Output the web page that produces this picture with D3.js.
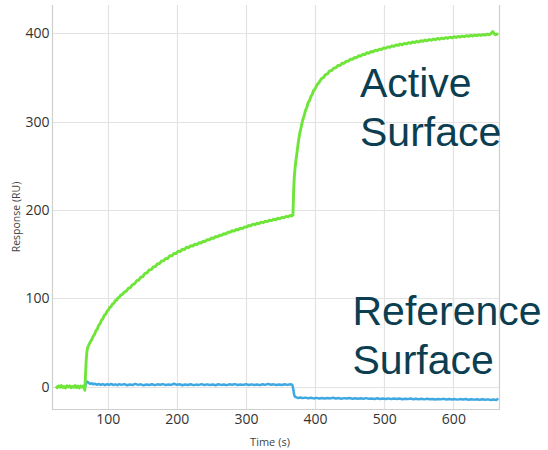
<!DOCTYPE html>
<html>
<head>
<meta charset="utf-8">
<script src="https://cdn.jsdelivr.net/npm/d3@7"></script>
<style>
  html, body { margin: 0; padding: 0; background: #ffffff; }
  svg { display: block; }
</style>
</head>
<body>
<svg id="chart" width="548" height="450"></svg>
<script>
// Sensorgram: response (RU) against time (s) for the active and reference flow cells
const xTicks = [100, 200, 300, 400, 500, 600];
const yTicks = [0, 100, 200, 300, 400];
const xTitle = "Time (s)";
const yTitle = "Response (RU)";

// [time, response] on the active surface
const activeSurface = [
  [25,0.4],[27,-1.2],[29,0.8],[31,-0.6],[33,1.3],[35,-1.0],[37,0.2],[39,-1.6],[41,0.9],[43,-0.4],
  [45,1.1],[47,-1.3],[49,0.3],[51,-0.8],[53,1.4],[55,-1.1],[57,0.6],[59,-1.5],[61,0.7],[63,-0.5],
  [65,1.0],[66,-1.8],[67,-4.2],
  [68,14],[69,30],[70,39.5],[71,44],[73,47.5],[75,50.8],[77,53.2],[79,57.0],[81,59.1],[83,63.2],
  [85,65.0],[87,69.4],[89,71.2],[91,75.1],[93,76.8],[95,80.6],[97,81.9],[99,85.3],[101,86.6],
  [103,89.8],[105,90.5],[107,93.6],[109,94.4],[111,97.3],[113,97.9],[115,100.6],[117,101.2],
  [119,103.8],[121,104.1],[124,107.0],[127,108.1],[130,111.4],[133,112.2],[136,115.6],[139,116.4],
  [142,119.9],[145,120.5],[148,124.0],[151,124.6],[154,128.3],[157,128.9],[160,132.1],[163,132.4],
  [166,135.6],[169,136.0],[172,139.1],[175,139.3],[178,142.2],[181,142.6],[184,145.2],[187,145.1],
  [190,148.3],[193,148.0],[196,150.9],[199,150.7],[202,153.4],[205,153.0],[208,155.6],[211,155.1],
  [214,157.8],[217,157.2],[220,159.6],[223,159.1],[226,161.3],[229,160.8],[232,162.9],[235,162.5],
  [238,164.6],[241,164.3],[244,166.4],[247,166.1],[250,168.2],[253,167.8],[256,169.9],[259,169.6],
  [262,171.5],[265,171.2],[268,173.1],[271,172.8],[274,174.8],[277,174.6],[280,176.5],[283,176.0],
  [286,177.9],[289,177.6],[292,179.4],[295,179.0],[298,180.9],[301,180.6],[304,182.4],[307,182.0],
  [310,183.9],[313,183.3],[316,185.0],[319,184.6],[322,186.2],[325,185.7],[328,187.3],[331,186.8],
  [334,188.4],[337,187.9],[340,189.5],[343,188.9],[346,190.6],[349,190.0],[352,191.6],[355,191.0],
  [358,192.7],[361,192.1],[364,193.8],[366,193.2],[368,194.2],
  [369,222],[370,238],[371,247],[372,254],[374,266],[376,278],[378,287.5],[380,294],[382,301.5],
  [384,306],[386,312.5],[388,316],[390,321.5],[392,324],[394,328.5],[396,331],[398,335.5],[400,337],
  [403,341.8],[406,344.6],[409,348.5],[412,349.8],[415,353.2],[418,354.1],[421,357.4],[424,357.9],
  [427,360.6],[430,360.9],[433,363.5],[436,363.6],[439,366.1],[442,366.0],[445,368.4],[448,368.3],
  [451,370.6],[454,370.4],[457,372.6],[460,372.3],[463,374.5],[466,374.2],[469,376.3],[472,375.9],
  [475,378.0],[478,377.4],[481,379.4],[484,379.0],[487,380.9],[490,380.3],[493,382.1],[496,381.6],
  [499,383.4],[502,382.9],[505,384.6],[508,384.1],[511,385.8],[514,385.1],[517,386.8],[520,386.2],
  [523,387.8],[526,387.0],[529,388.6],[532,387.9],[535,389.4],[538,388.7],[541,390.2],[544,389.4],
  [547,390.9],[550,390.1],[553,391.6],[556,390.8],[559,392.3],[562,391.5],[565,392.9],[568,392.1],
  [571,393.5],[574,392.7],[577,394.1],[580,393.3],[583,394.6],[586,393.8],[589,395.1],[592,394.3],
  [595,395.6],[598,394.8],[601,396.1],[604,395.3],[607,396.5],[610,395.7],[613,396.9],[616,396.1],
  [619,397.3],[622,396.5],[625,397.6],[628,396.9],[631,398.0],[634,397.2],[637,398.3],[640,397.5],
  [643,398.6],[646,397.9],[649,399.0],[652,398.2],[655,400.1],[657,402.0],[659,399.6],[661,398.3],
  [663,399.2],[665,398.4]
];

// [time, response] on the reference surface
const referenceSurface = [
  [67,-1.0],[68,1.5],[69,4.5],[70,5.8],[71,5.2],[73,4.0],[75,3.1],[77,3.8],[79,2.6],[81,3.3],
  [84,2.2],[87,3.0],[90,2.0],[93,2.9],[96,1.8],[99,2.7],[102,2.1],[105,3.0],[108,1.9],[111,2.6],
  [114,1.7],[117,2.8],[120,2.0],[124,2.9],[128,1.6],[132,2.5],[136,1.9],[140,3.1],[144,2.0],[148,2.6],
  [152,1.5],[156,2.4],[160,1.9],[164,2.8],[168,1.7],[172,2.6],[176,2.1],[180,2.9],[184,1.8],[188,2.4],
  [192,2.0],[196,3.3],[200,2.1],[204,2.7],[208,1.6],[212,2.5],[216,1.9],[220,2.8],[224,1.7],[228,2.3],
  [232,2.0],[236,2.9],[240,1.8],[244,2.6],[248,1.9],[252,2.4],[256,1.6],[260,2.7],[264,2.0],[268,2.5],
  [272,1.7],[276,2.6],[280,2.1],[284,2.9],[288,1.9],[292,2.5],[296,2.0],[300,2.8],[304,1.8],[308,2.6],
  [312,1.9],[316,2.4],[320,1.7],[324,2.7],[328,2.0],[332,3.2],[336,2.1],[340,2.6],[344,1.8],[348,2.5],
  [352,1.9],[356,2.7],[360,2.0],[364,2.6],[367,2.2],
  [368,-1.0],[369,-5.5],[370,-10.2],[371,-11.4],[373,-12.1],[376,-12.9],[379,-12.3],[382,-13.0],
  [386,-12.4],[390,-13.2],[394,-12.6],[398,-13.3],[402,-12.7],[406,-13.4],[410,-12.8],[414,-13.5],
  [418,-12.9],[422,-13.3],[426,-12.6],[430,-13.4],[434,-12.9],[438,-13.6],[442,-13.0],[446,-13.5],
  [450,-12.8],[454,-13.6],[458,-13.1],[462,-13.8],[466,-13.2],[470,-13.7],[474,-13.0],[478,-13.8],
  [482,-13.3],[486,-13.9],[490,-13.2],[494,-14.0],[498,-13.4],[502,-13.9],[506,-13.3],[510,-14.1],
  [514,-13.5],[518,-14.0],[522,-13.4],[526,-14.2],[530,-13.6],[534,-14.1],[538,-13.5],[542,-14.3],
  [546,-13.7],[550,-14.2],[554,-13.6],[558,-14.4],[562,-13.8],[566,-14.3],[570,-13.9],[574,-14.5],
  [578,-13.9],[582,-14.4],[586,-13.8],[590,-14.6],[594,-14.0],[598,-14.5],[602,-14.1],[606,-14.7],
  [610,-14.1],[614,-14.6],[618,-14.0],[622,-14.8],[626,-14.2],[630,-14.7],[634,-14.3],[638,-14.9],
  [642,-14.3],[646,-14.8],[650,-14.4],[654,-15.0],[658,-14.5],[662,-15.1],[665,-13.6]
];

// Callout labels beside each trace
const activeLabel = ["Active", "Surface"];
const referenceLabel = ["Reference", "Surface"];

const svg = d3.select("#chart");
const plot = { left: 52, right: 499, top: 5, bottom: 409 };

const x = d3.scaleLinear().domain([19.5, 666]).range([plot.left, plot.right]);
const y = d3.scaleLinear().domain([-25.3, 432]).range([plot.bottom, plot.top]);

const gridColor = "#e3e3e3";
const axisColor = "#cfcfcf";
const tickFont = "'Open Sans', 'Noto Sans', sans-serif";

// Grid
svg.append("g").selectAll("line").data(yTicks).join("line")
  .attr("x1", plot.left).attr("x2", plot.right)
  .attr("y1", d => Math.round(y(d)) + 0.5).attr("y2", d => Math.round(y(d)) + 0.5)
  .attr("stroke", gridColor).attr("stroke-width", 1.2);
svg.append("g").selectAll("line").data(xTicks).join("line")
  .attr("x1", d => Math.round(x(d)) + 0.5).attr("x2", d => Math.round(x(d)) + 0.5)
  .attr("y1", plot.top).attr("y2", plot.bottom)
  .attr("stroke", gridColor).attr("stroke-width", 1.2);

// Frame: left, bottom and right edges
const frame = svg.append("g").attr("stroke", axisColor).attr("stroke-width", 1.2);
frame.append("line").attr("x1", plot.left + 0.5).attr("x2", plot.left + 0.5)
  .attr("y1", plot.top).attr("y2", plot.bottom + 0.5);
frame.append("line").attr("x1", plot.left).attr("x2", plot.right + 0.5)
  .attr("y1", plot.bottom + 0.5).attr("y2", plot.bottom + 0.5);
frame.append("line").attr("x1", plot.right + 0.5).attr("x2", plot.right + 0.5)
  .attr("y1", plot.top).attr("y2", plot.bottom + 0.5);

// Axes
const xAxis = svg.append("g")
  .attr("transform", `translate(0,${plot.bottom})`)
  .call(d3.axisBottom(x).tickValues(xTicks).tickSize(0).tickPadding(5.5).tickFormat(d3.format("d")));
const yAxis = svg.append("g")
  .attr("transform", `translate(${plot.left},0)`)
  .call(d3.axisLeft(y).tickValues(yTicks).tickSize(0).tickPadding(2.5).tickFormat(d3.format("d")));
[xAxis, yAxis].forEach(g => {
  g.select(".domain").remove();
  g.selectAll("text").attr("font-family", tickFont).attr("font-size", 14).attr("fill", "#333333");
});

// Axis titles
svg.append("text")
  .attr("x", 270).attr("y", 446)
  .attr("text-anchor", "middle")
  .attr("font-family", tickFont).attr("font-size", 11).attr("fill", "#444444")
  .text(xTitle);
svg.append("text")
  .attr("transform", "translate(20,217) rotate(-90)")
  .attr("text-anchor", "middle")
  .attr("font-family", tickFont).attr("font-size", 10.5).attr("fill", "#444444")
  .text(yTitle);

// Traces
const line = d3.line().x(d => x(d[0])).y(d => y(d[1]));
svg.append("path").datum(referenceSurface)
  .attr("d", line).attr("fill", "none")
  .attr("stroke", "#3fa8e1").attr("stroke-width", 2.5).attr("stroke-linejoin", "round");
svg.append("path").datum(activeSurface)
  .attr("d", line).attr("fill", "none")
  .attr("stroke", "#6fe53a").attr("stroke-width", 2.9).attr("stroke-linejoin", "round");

// Callouts
function callout(lines, xPos, baseline) {
  const t = svg.append("text")
    .attr("font-family", "'Liberation Sans', Arial, sans-serif")
    .attr("font-size", 41).attr("fill", "#0c3e52");
  lines.forEach((s, i) => {
    t.append("tspan").attr("x", xPos).attr("y", baseline + i * 49.3).text(s);
  });
}
callout(activeLabel, 360, 96.7);
callout(referenceLabel, 352.5, 325);
</script>
</body>
</html>
